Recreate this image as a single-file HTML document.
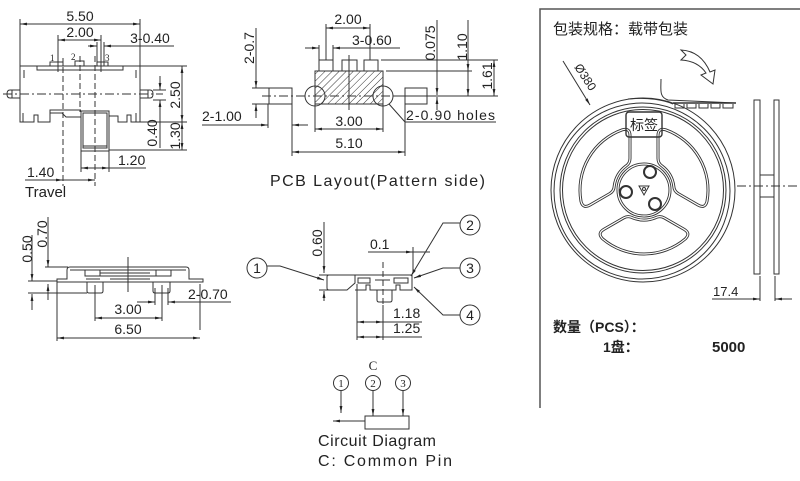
<!DOCTYPE html>
<html><head><meta charset="utf-8"><style>
html,body{margin:0;padding:0;background:#fff;}
svg{display:block;}
text{font-family:"Liberation Sans","Noto Sans CJK SC",sans-serif;fill:#222;}
</style></head><body>
<svg width="800" height="481" viewBox="0 0 800 481" xmlns="http://www.w3.org/2000/svg">
<defs>
<marker id="ar" viewBox="0 0 10 10" refX="10" refY="5" markerWidth="7" markerHeight="7" orient="auto-start-reverse" markerUnits="userSpaceOnUse"><path d="M0,3 L10,5 L0,7z" fill="#222"/></marker>
<pattern id="hatch" width="5" height="5" patternUnits="userSpaceOnUse" patternTransform="rotate(45)"><line x1="0" y1="0" x2="0" y2="5" stroke="#333" stroke-width="1"/></pattern>
<path id="win" d="M27.9,-20.3 L39.3,-40.1 Q43.3,-47 48.9,-41.3 A64,64 0 0 1 48.9,41.3 Q43.3,47 39.3,40.1 L27.9,20.3 Q25.4,16 27.7,11.6 A30,30 0 0 0 27.7,-11.6 Q25.4,-16 27.9,-20.3 Z"/>
</defs>
<rect width="800" height="481" fill="#fff"/>

<!-- ===== Top-left view ===== -->
<g fill="none" stroke="#333" stroke-width="1">
<path d="M20 19V66M140 19V66"/>
<line x1="20" y1="24" x2="140" y2="24" marker-start="url(#ar)" marker-end="url(#ar)"/>
<path d="M58 35V72M101 35V72"/>
<line x1="58" y1="40" x2="101" y2="40" marker-start="url(#ar)" marker-end="url(#ar)"/>
<path d="M97 42V66M104 42V66"/>
<line x1="88" y1="46" x2="97" y2="46" marker-end="url(#ar)"/>
<line x1="174" y1="46" x2="104" y2="46" marker-end="url(#ar)"/>
<path d="M20 66H140V122H131V115H127V122H118V116H109M81 110H50V122H38V115H34V122H20V66"/>
<path d="M50 113H62L66 117H81M23 113V122M136 113V122M24 70V78M136 70V78"/>
<rect x="37" y="66" width="86" height="4"/>
<rect x="50" y="62" width="13" height="4"/>
<rect x="75" y="61" width="9" height="5"/>
<rect x="97" y="62" width="11" height="4"/>
<path d="M20 90H10Q7 90 7 94Q7 98 10 98H20M12 90V98"/>
<path d="M140 90H150Q153 90 153 94Q153 98 150 98H140M148 90V98"/>
<line x1="3" y1="94" x2="163" y2="94" stroke-dasharray="9 3 2 3"/>
<path d="M63 58V186M80 56V112M95 56V186" stroke-dasharray="6 3"/>
<rect x="81" y="111" width="28" height="40"/>
<rect x="83" y="113" width="24" height="35"/>
<line x1="83" y1="146" x2="107" y2="146"/>
<path d="M140 66H187M140 122H187M109 150H187"/>
<line x1="182" y1="66" x2="182" y2="122" marker-start="url(#ar)" marker-end="url(#ar)"/>
<line x1="182" y1="122" x2="182" y2="150" marker-start="url(#ar)" marker-end="url(#ar)"/>
<line x1="160" y1="76" x2="160" y2="90" marker-end="url(#ar)"/>
<line x1="160" y1="100" x2="160" y2="148" marker-start="url(#ar)"/>
<path d="M153 90H166M153 100H166"/>
<path d="M81 151V172M109 151V172"/>
<line x1="81" y1="168" x2="109" y2="168" marker-start="url(#ar)" marker-end="url(#ar)"/>
<line x1="109" y1="168" x2="146" y2="168"/>
<line x1="25" y1="180" x2="63" y2="180" marker-end="url(#ar)"/>
<line x1="63" y1="180" x2="95" y2="180" marker-end="url(#ar)"/>
</g>
<g font-size="14">
<text x="80" y="21" text-anchor="middle">5.50</text>
<text x="80" y="37" text-anchor="middle">2.00</text>
<text x="150" y="43" text-anchor="middle">3-0.40</text>
<text transform="translate(180,95) rotate(-90)" text-anchor="middle">2.50</text>
<text transform="translate(180,136) rotate(-90)" text-anchor="middle">1.30</text>
<text transform="translate(157,133) rotate(-90)" text-anchor="middle">0.40</text>
<text x="118" y="165">1.20</text>
<text x="27" y="177">1.40</text>
<text x="25" y="197" font-size="15">Travel</text>
</g>
<g font-size="9">
<text x="50" y="61" style="font-family:'Liberation Serif',serif">1</text>
<text x="71" y="60" style="font-family:'Liberation Serif',serif">2</text>
<text x="105" y="61" style="font-family:'Liberation Serif',serif">3</text>
</g>

<!-- ===== PCB layout ===== -->
<g fill="none" stroke="#333" stroke-width="1">
<line x1="256" y1="28" x2="256" y2="88" marker-end="url(#ar)"/>
<line x1="256" y1="118" x2="256" y2="104" marker-end="url(#ar)"/>
<path d="M252 88H269M252 104H269"/>
<rect x="269" y="88" width="23" height="16"/>
<rect x="405" y="88" width="22" height="16"/>
<rect x="315" y="71" width="68" height="33" fill="url(#hatch)"/>
<circle cx="315" cy="96" r="10"/>
<circle cx="383" cy="96" r="10"/>
<line x1="262" y1="96" x2="434" y2="96" stroke-dasharray="9 3 2 3"/>
<rect x="319" y="60" width="14" height="11" fill="#fff"/>
<rect x="342" y="60" width="15" height="11" fill="#fff"/>
<rect x="364" y="60" width="14" height="11" fill="#fff"/>
<line x1="349" y1="55" x2="349" y2="110"/>
<path d="M326 24V60M370 24V60"/>
<line x1="326" y1="28" x2="370" y2="28" marker-start="url(#ar)" marker-end="url(#ar)"/>
<path d="M319 45V60M333 45V60"/>
<line x1="305" y1="48" x2="319" y2="48" marker-end="url(#ar)"/>
<line x1="400" y1="48" x2="333" y2="48" marker-end="url(#ar)"/>
<line x1="437" y1="20" x2="437" y2="95" marker-end="url(#ar)"/>
<line x1="437" y1="110" x2="437" y2="97" marker-end="url(#ar)"/>
<line x1="468" y1="20" x2="468" y2="71" marker-end="url(#ar)"/>
<line x1="468" y1="71" x2="468" y2="96" marker-end="url(#ar)"/>
<line x1="494" y1="60" x2="494" y2="96" marker-start="url(#ar)" marker-end="url(#ar)"/>
<path d="M381 60H498M386 71H472M395 96H498"/>
<path d="M389 104L405 122H496"/>
<line x1="202" y1="125" x2="268" y2="125" marker-end="url(#ar)"/>
<line x1="308" y1="125" x2="292" y2="125" marker-end="url(#ar)"/>
<path d="M268 104V128M292 104V156M315 104V132M383 104V132M405 104V156"/>
<line x1="315" y1="129" x2="383" y2="129" marker-start="url(#ar)" marker-end="url(#ar)"/>
<line x1="292" y1="152" x2="405" y2="152" marker-start="url(#ar)" marker-end="url(#ar)"/>
</g>
<g font-size="14">
<text transform="translate(254,48) rotate(-90)" text-anchor="middle">2-0.7</text>
<text x="348" y="24" text-anchor="middle">2.00</text>
<text x="352" y="45">3-0.60</text>
<text transform="translate(435,43) rotate(-90)" text-anchor="middle">0.075</text>
<text transform="translate(467,47) rotate(-90)" text-anchor="middle">1.10</text>
<text transform="translate(492,76) rotate(-90)" text-anchor="middle">1.61</text>
<text x="406" y="120" textLength="89">2-0.90 holes</text>
<text x="202" y="121">2-1.00</text>
<text x="349" y="126" text-anchor="middle">3.00</text>
<text x="349" y="148" text-anchor="middle">5.10</text>
<text x="270" y="186" font-size="16" textLength="215">PCB Layout(Pattern side)</text>
</g>

<!-- ===== Bottom-left side view ===== -->
<g fill="none" stroke="#333" stroke-width="1">
<line x1="48" y1="217" x2="48" y2="267" marker-end="url(#ar)"/>
<line x1="48" y1="300" x2="48" y2="284" marker-end="url(#ar)"/>
<line x1="32" y1="235" x2="32" y2="281" marker-end="url(#ar)"/>
<line x1="32" y1="310" x2="32" y2="294" marker-end="url(#ar)"/>
<path d="M45 267H68M28 281H57M28 293H87"/>
<path d="M57 279H67V270Q67 267 70 267H186Q189 267 189 270V279H203V282H57Z"/>
<path d="M70 270H186M85 270V276H100V270M156 270V276H171V270M88 276H160M100 273H150M110 279H150M86 279H100"/>
<path d="M87 282V291Q87 293 89 293H101Q103 293 103 291V282"/>
<path d="M153 282V291Q153 293 155 293H168Q170 293 170 291V282"/>
<line x1="128" y1="257" x2="128" y2="292"/>
<path d="M95 285V321M162 285V321M57 282V341M200 284V330M155 288V305M168 288V305"/>
<line x1="95" y1="318" x2="162" y2="318" marker-start="url(#ar)" marker-end="url(#ar)"/>
<line x1="57" y1="338" x2="200" y2="338" marker-start="url(#ar)" marker-end="url(#ar)"/>
<line x1="137" y1="302" x2="155" y2="302" marker-end="url(#ar)"/>
<line x1="185" y1="302" x2="168" y2="302" marker-end="url(#ar)"/>
<line x1="168" y1="302" x2="231" y2="302"/>
</g>
<g font-size="14">
<text transform="translate(47,234) rotate(-90)" text-anchor="middle">0.70</text>
<text transform="translate(32,249) rotate(-90)" text-anchor="middle">0.50</text>
<text x="128" y="314" text-anchor="middle">3.00</text>
<text x="128" y="334" text-anchor="middle">6.50</text>
<text x="188" y="299">2-0.70</text>
</g>

<!-- ===== Middle bottom side view ===== -->
<g fill="none" stroke="#333" stroke-width="1">
<circle cx="257" cy="268" r="10"/>
<circle cx="470" cy="225" r="10"/>
<circle cx="470" cy="268" r="10"/>
<circle cx="470" cy="315" r="10"/>
<path d="M267 266H280L324 280" marker-end="url(#ar)"/>
<path d="M460 223H443L411 276" marker-end="url(#ar)"/>
<path d="M460 268H443L414 278" marker-end="url(#ar)"/>
<path d="M460 315H443L414 287" marker-end="url(#ar)"/>
<path d="M327 277Q327 275 329 275H355V283L347 290H329Q327 290 327 288Z"/>
<path d="M355 275H412V290H400V285H396V290H370V285H366V290H355"/>
<path d="M358 278H370V283H358ZM394 278H408V283H394ZM375 280H390"/>
<path d="M377 290V300Q377 302 379 302H390Q392 302 392 300V290"/>
<line x1="383" y1="262" x2="383" y2="308" stroke-dasharray="6 3"/>
<line x1="324" y1="222" x2="324" y2="273" marker-end="url(#ar)"/>
<line x1="324" y1="301" x2="324" y2="291" marker-end="url(#ar)"/>
<path d="M319 275H330M319 290H330"/>
<line x1="368" y1="252" x2="413" y2="252" marker-end="url(#ar)"/>
<line x1="413" y1="252" x2="430" y2="252"/>
<line x1="413" y1="247" x2="413" y2="273"/>
<path d="M357 284V340M383 305V340"/>
<line x1="357" y1="322" x2="383" y2="322" marker-start="url(#ar)" marker-end="url(#ar)"/>
<line x1="383" y1="322" x2="422" y2="322"/>
<line x1="357" y1="337" x2="383" y2="337" marker-start="url(#ar)" marker-end="url(#ar)"/>
<line x1="383" y1="337" x2="422" y2="337"/>
</g>
<g font-size="14">
<text x="257" y="273" text-anchor="middle">1</text>
<text x="470" y="230" text-anchor="middle">2</text>
<text x="470" y="273" text-anchor="middle">3</text>
<text x="470" y="320" text-anchor="middle">4</text>
<text transform="translate(322,243) rotate(-90)" text-anchor="middle">0.60</text>
<text x="370" y="249">0.1</text>
<text x="393" y="318">1.18</text>
<text x="393" y="333">1.25</text>
</g>

<!-- ===== Circuit diagram ===== -->
<g fill="none" stroke="#333" stroke-width="1">
<circle cx="341" cy="383" r="7.5"/>
<circle cx="373" cy="383" r="7.5"/>
<circle cx="403" cy="383" r="7.5"/>
<line x1="341" y1="391" x2="341" y2="413" marker-end="url(#ar)"/>
<line x1="373" y1="391" x2="373" y2="416" marker-end="url(#ar)"/>
<line x1="403" y1="391" x2="403" y2="416" marker-end="url(#ar)"/>
<rect x="365" y="416" width="44" height="13"/>
<line x1="365" y1="421" x2="333" y2="421" marker-end="url(#ar)"/>
</g>
<g font-size="11">
<text x="341" y="387" text-anchor="middle" style="font-family:'Liberation Serif',serif">1</text>
<text x="373" y="387" text-anchor="middle" style="font-family:'Liberation Serif',serif">2</text>
<text x="403" y="387" text-anchor="middle" style="font-family:'Liberation Serif',serif">3</text>
<text x="373" y="370" text-anchor="middle" font-size="13" style="font-family:'Liberation Serif',serif">C</text>
</g>
<text x="318" y="446" font-size="16" textLength="118">Circuit Diagram</text>
<text x="318" y="466" font-size="16" textLength="134">C: Common Pin</text>

<!-- ===== Packaging panel ===== -->
<path d="M540 408V9H800" fill="none" stroke="#555" stroke-width="1.5"/>
<text x="553" y="34" font-size="15">包装规格：载带包装</text>
<g fill="none" stroke="#333" stroke-width="1">
<circle cx="643" cy="190" r="92"/>
<circle cx="642" cy="191" r="88"/>
<circle cx="643" cy="190" r="83"/>
<circle cx="643" cy="190" r="80.5"/>
</g>
<g transform="translate(644,190)" fill="none">
<g stroke="#333" stroke-width="3">
<use href="#win" transform="rotate(-150)"/>
<use href="#win" transform="rotate(-30)"/>
<use href="#win" transform="rotate(90)"/>
<circle r="26"/>
</g>
<g stroke="#fff" stroke-width="1.2">
<use href="#win" transform="rotate(-150)"/>
<use href="#win" transform="rotate(-30)"/>
<use href="#win" transform="rotate(90)"/>
<circle r="26"/>
</g>
</g>
<g fill="none" stroke="#333">
<circle cx="650" cy="172" r="6" stroke-width="2"/>
<circle cx="626" cy="192" r="6" stroke-width="2"/>
<circle cx="655" cy="204" r="6" stroke-width="2"/>
<path d="M639 186L649 186L644 195Z" stroke-width="1"/>
<circle cx="644" cy="189" r="1.5" stroke-width="1"/>
<rect x="626" y="112" width="36" height="25" rx="3" stroke-width="1.4"/>
<path d="M661 79C661 90 659 97 668 100L736 103" stroke-width="1"/>
<path d="M628 99C648 97 664 100 673 104" stroke-width="1"/>
<path d="M673 103H736" stroke-width="1.5"/>
<path d="M675 104V108H684V104M687 104V108H696V104M699 104V108H708V104M711 104V108H720V104M723 104V108H733V104" stroke-width="1"/>
<path d="M681 50L686 55L681 60Q698 61 706 73L701 75L713 84L715 70L710 72Q701 51 681 50Z" stroke-width="1" fill="#fff"/>
<line x1="563" y1="61" x2="590" y2="105" stroke-width="1" marker-end="url(#ar)"/>
<rect x="754" y="100" width="6" height="174" stroke-width="1"/>
<rect x="774" y="100" width="5" height="174" stroke-width="1"/>
<path d="M760 175H774M760 197H774" stroke-width="1"/>
<line x1="737" y1="186" x2="800" y2="186" stroke-width="1" stroke-dasharray="9 3 2 3"/>
<path d="M760 276V301M775 276V301" stroke-width="1"/>
<line x1="712" y1="299" x2="760" y2="299" stroke-width="1" marker-end="url(#ar)"/>
<line x1="792" y1="299" x2="775" y2="299" stroke-width="1" marker-end="url(#ar)"/>
</g>
<text x="644" y="130" font-size="14" text-anchor="middle">标签</text>
<text transform="translate(574,67) rotate(57)" font-size="12">Ø380</text>
<text x="713" y="296" font-size="13">17.4</text>
<text x="553" y="332" font-size="14" font-weight="bold">数量（PCS）：</text>
<text x="603" y="352" font-size="14" font-weight="bold">1盘：</text>
<text x="712" y="352" font-size="15" font-weight="bold">5000</text>
</svg>
</body></html>
